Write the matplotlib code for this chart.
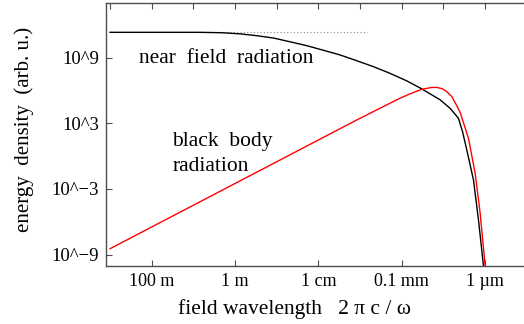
import matplotlib
matplotlib.use("Agg")
import matplotlib.pyplot as plt
import numpy as np

# log10 of wavelength (m) and log10 of energy density
near_loglam = [3.0, 0.84, 0.3, -0.12, -0.5, -0.92, -1.3, -1.72, -2.1, -2.52, -2.9,
               -3.32, -3.7, -4.12, -4.48, -4.92, -5.16, -5.36, -5.46, -5.56,
               -5.72, -5.84, -5.96, -6.0]
near_logu = [11.32, 11.32, 11.28, 11.18, 11.02, 10.80, 10.47, 10.10, 9.70, 9.25, 8.75,
             8.18, 7.60, 6.88, 6.15, 5.15, 4.37, 3.46, 2.2, 0.56,
             -2.18, -5.84, -10.04, -11.0]

bb_loglam = [3.0, -2.92, -3.5, -3.96, -4.2, -4.48, -4.7, -4.84, -4.98, -5.08, -5.20,
             -5.32, -5.40, -5.60, -5.76, -5.88, -6.0, -6.04]
bb_logu = [-8.46, 3.31, 4.42, 5.30, 5.70, 6.11, 6.27, 6.29, 6.15, 5.89, 5.45,
           4.60, 4.00, 1.63, -1.57, -5.20, -10.04, -11.0]

# dotted level of the near field plateau
dot_loglam = [3.0, -3.17]
dot_logu = [11.32, 11.32]

xtick_vals = [1e2, 1e0, 1e-2, 1e-4, 1e-6]
xtick_labels = ["100 m", "1 m", "1 cm", "0.1 mm", "1 \u00b5m"]
top_ticks = [10.0 ** k for k in range(3, -7, -1)]
ytick_vals = [1e9, 1e3, 1e-3, 1e-9]
ytick_labels = ["10^9", "10^3", "10^\u22123", "10^\u22129"]

plt.rcParams["font.family"] = ["Liberation Serif", "DejaVu Serif"]
plt.rcParams["font.size"] = 13

fig = plt.figure(figsize=(5.24, 3.24), dpi=100)
ax = fig.add_axes([106 / 524, 58 / 324, 420 / 524, 263 / 324])

ax.plot(10.0 ** np.array(dot_loglam), 10.0 ** np.array(dot_logu),
        color="0.55", lw=0.8, linestyle=(0, (1, 2)))
ax.plot(10.0 ** np.array(near_loglam), 10.0 ** np.array(near_logu),
        color="black", lw=1.0)
ax.plot(10.0 ** np.array(bb_loglam), 10.0 ** np.array(bb_logu),
        color="red", lw=1.0)

ax.set_xscale("log")
ax.set_yscale("log")
ax.set_xlim(10 ** 3.097, 10 ** -6.98)
ax.set_ylim(10 ** -10.04, 10 ** 14.0)

ax.set_xticks(xtick_vals)
ax.set_xticklabels(xtick_labels)
ax.xaxis.set_minor_locator(matplotlib.ticker.NullLocator())
ax.set_yticks(ytick_vals)
ax.set_yticklabels(ytick_labels, fontsize=13.5)
ax.yaxis.set_minor_locator(matplotlib.ticker.NullLocator())
ax.tick_params(direction="in", length=4, width=0.8, color="0.3", pad=5)

top = ax.secondary_xaxis("top")
top.set_xticks(top_ticks)
top.set_xticklabels([])
top.xaxis.set_minor_locator(matplotlib.ticker.NullLocator())
top.tick_params(direction="in", length=4, width=0.8, color="0.3")
top.spines["top"].set_visible(False)

for sp in ax.spines.values():
    sp.set_color("0.3")
    sp.set_linewidth(1.0)

ax.set_xlabel("field wavelength   2 \u03c0 c / \u03c9", fontsize=15.5)
ax.xaxis.set_label_coords(0.45, -0.125)
ax.set_ylabel("energy  density  (arb. u.)", fontsize=15)
ax.yaxis.set_label_coords(-0.172, 0.52)

ax.text(10 ** 2.30, 10 ** 8.97, "near  field  radiation", va="center", ha="left",
        fontsize=15.5)
ax.text(10 ** 1.51, 10 ** 0.2, "black  body\nradiation", va="center", ha="left",
        fontsize=15.5, linespacing=1.4)

fig.savefig("out.png", dpi=100)
